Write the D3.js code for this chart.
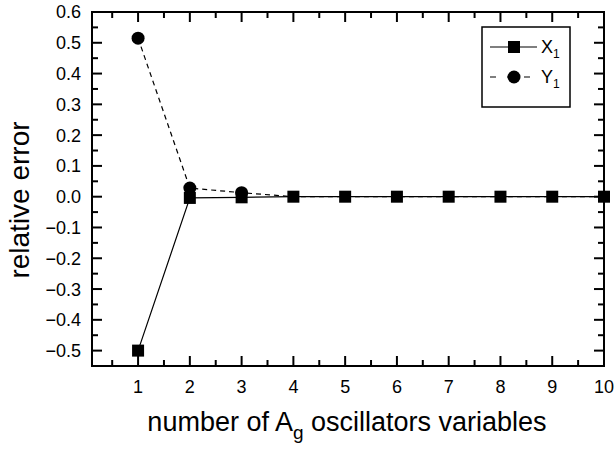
<!DOCTYPE html>
<html><head><meta charset="utf-8">
<script src="https://cdn.jsdelivr.net/npm/d3@7"></script>
<style>body{margin:0;background:#fff}svg{display:block}text{font-family:"Liberation Sans",Arial,sans-serif;fill:#000}</style>
</head><body><svg id="c" width="616" height="453"></svg>
<script>
const xValues = [1,2,3,4,5,6,7,8,9,10];
const seriesX1 = [-0.5,-0.004,-0.002,0.0,0.0,0.0,0.0,0.0,0.0,0.0];
const seriesY1 = [0.515,0.028,0.013,0.0,0.0,0.0,0.0,0.0,0.0,0.0];
const yTicks = [0.6,0.5,0.4,0.3,0.2,0.1,0.0,-0.1,-0.2,-0.3,-0.4,-0.5];
const xTicks = [1,2,3,4,5,6,7,8,9,10];
const legendLabels = ["X","Y"];

const svg = d3.select("#c");
const L=92, R=604, T=12, B=366;
const x = d3.scaleLinear().domain([0.11,10]).range([L,R]);
const y = d3.scaleLinear().domain([-0.55,0.6]).range([B,T]);

const g = svg.append("g");
g.append("rect").attr("x",L).attr("y",T).attr("width",R-L).attr("height",B-T)
 .attr("fill","none").attr("stroke","#000").attr("stroke-width",2);

const yMinor = d3.range(-0.45,0.6,0.1).map(v=>+v.toFixed(2));
yTicks.forEach(v=>{
  g.append("line").attr("x1",L).attr("x2",L+10).attr("y1",y(v)).attr("y2",y(v)).attr("stroke","#000").attr("stroke-width",2);
  g.append("line").attr("x1",R).attr("x2",R-10).attr("y1",y(v)).attr("y2",y(v)).attr("stroke","#000").attr("stroke-width",2);
  g.append("text").attr("x",L-11).attr("y",y(v)).attr("dy","0.36em").attr("text-anchor","end")
   .attr("font-size",18).text(d3.format(".1f")(v));
});
yMinor.forEach(v=>{
  g.append("line").attr("x1",L).attr("x2",L+6).attr("y1",y(v)).attr("y2",y(v)).attr("stroke","#000").attr("stroke-width",2);
  g.append("line").attr("x1",R).attr("x2",R-6).attr("y1",y(v)).attr("y2",y(v)).attr("stroke","#000").attr("stroke-width",2);
});
xTicks.forEach(v=>{
  g.append("line").attr("x1",x(v)).attr("x2",x(v)).attr("y1",B).attr("y2",B-10).attr("stroke","#000").attr("stroke-width",2);
  g.append("line").attr("x1",x(v)).attr("x2",x(v)).attr("y1",T).attr("y2",T+10).attr("stroke","#000").attr("stroke-width",2);
  g.append("text").attr("x",x(v)).attr("y",B+27).attr("text-anchor","middle").attr("font-size",18).text(v);
});
d3.range(0.5,10,1).forEach(v=>{
  g.append("line").attr("x1",x(v)).attr("x2",x(v)).attr("y1",B).attr("y2",B-6).attr("stroke","#000").attr("stroke-width",2);
  g.append("line").attr("x1",x(v)).attr("x2",x(v)).attr("y1",T).attr("y2",T+6).attr("stroke","#000").attr("stroke-width",2);
});

const lineGen = d3.line().x((d,i)=>x(xValues[i])).y(d=>y(d));
g.append("path").datum(seriesY1).attr("d",lineGen).attr("fill","none").attr("stroke","#000")
 .attr("stroke-width",1.2).attr("stroke-dasharray","5,4");
g.append("path").datum(seriesX1).attr("d",lineGen).attr("fill","none").attr("stroke","#000").attr("stroke-width",1.2);

g.selectAll("rect.sq").data(seriesX1).enter().append("rect").attr("class","sq")
 .attr("x",(d,i)=>x(xValues[i])-6).attr("y",d=>y(d)-6).attr("width",12).attr("height",12).attr("fill","#000");
g.selectAll("circle.ci").data(seriesY1).enter().append("circle").attr("class","ci")
 .attr("cx",(d,i)=>x(xValues[i])).attr("cy",d=>y(d)).attr("r",6.5).attr("fill","#000")
 .attr("display",(d,i)=>i<3?null:"none");

const lg = g.append("g");
lg.append("rect").attr("x",482).attr("y",27).attr("width",88).attr("height",80).attr("fill","#fff").attr("stroke","#000").attr("stroke-width",1.5);
const ly = [47,77];
lg.append("line").attr("x1",490).attr("x2",537).attr("y1",ly[0]).attr("y2",ly[0]).attr("stroke","#000").attr("stroke-width",1.2);
lg.append("rect").attr("x",508).attr("y",ly[0]-6).attr("width",12).attr("height",12).attr("fill","#000");
lg.append("line").attr("x1",490).attr("x2",537).attr("y1",ly[1]).attr("y2",ly[1]).attr("stroke","#000").attr("stroke-width",1.2).attr("stroke-dasharray","6,11");
lg.append("circle").attr("cx",514).attr("cy",ly[1]).attr("r",6.5).attr("fill","#000");
legendLabels.forEach((s,i)=>{
  const t = lg.append("text").attr("x",541).attr("y",ly[i]+6).attr("font-size",18);
  t.append("tspan").text(s);
  t.append("tspan").attr("font-size",12).attr("dy",5).text("1");
});

svg.append("text").attr("transform","translate(29,200) rotate(-90)").attr("text-anchor","middle")
 .attr("font-size",28).text("relative error");
const xt = svg.append("text").attr("x",347).attr("y",431).attr("text-anchor","middle").attr("font-size",27);
xt.append("tspan").text("number of A");
xt.append("tspan").attr("font-size",19).attr("dy",8).text("g");
xt.append("tspan").attr("dy",-8).text(" oscillators variables");
</script></body></html>
